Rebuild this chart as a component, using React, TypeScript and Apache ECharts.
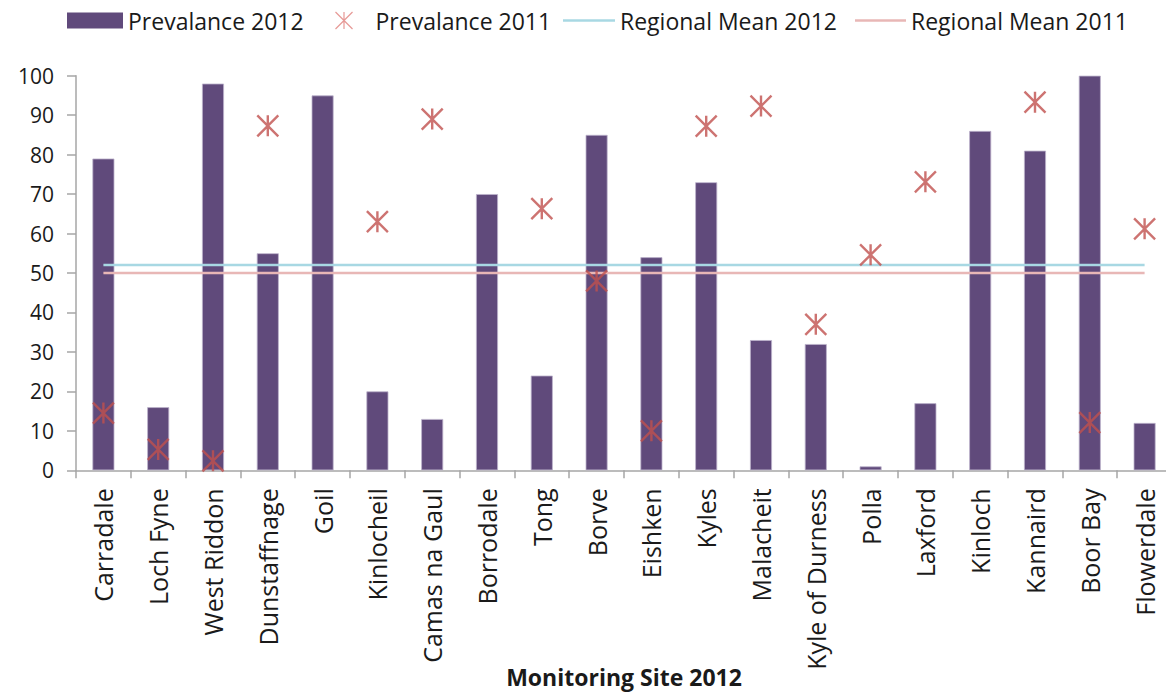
import React, { useEffect, useRef } from "react";
import * as echarts from "echarts";

const categories = [
  "Carradale", "Loch Fyne", "West Riddon", "Dunstaffnage", "Goil", "Kinlocheil",
  "Camas na Gaul", "Borrodale", "Tong", "Borve", "Eishken", "Kyles", "Malacheit",
  "Kyle of Durness", "Polla", "Laxford", "Kinloch", "Kannaird", "Boor Bay", "Flowerdale",
];

const prevalence2012 = [79, 16, 98, 55, 95, 20, 13, 70, 24, 85, 54, 73, 33, 32, 1, 17, 86, 81, 100, 12];
const prevalence2011 = [14.5, 5.3, 2.4, 87.3, null, 63, 89, null, 66.3, 48, 10, 87.2, 92.3, 37, 54.6, 73.1, null, 93.3, 12.1, 61.2];
const regionalMean2012 = 52;
const regionalMean2011 = 50;
const yTicks = [0, 10, 20, 30, 40, 50, 60, 70, 80, 90, 100];

const FONT = "'Open Sans', sans-serif";
const STAR = "path://M0,0L20,20M0,20L20,0M10,0L10,20";
const BAR_COLOR = "#604a7b";
const STAR_COLOR = "#c0504d";
const MEAN12_COLOR = "#a8d8e3";
const MEAN11_COLOR = "#e8b7b6";

export default function App() {
  const ref = useRef<HTMLDivElement>(null);

  useEffect(() => {
    document.body.style.margin = "0";
    if (!ref.current) return;
    const chart = echarts.init(ref.current, undefined, { renderer: "svg" });
    const legendText = { fontFamily: FONT, fontSize: 23, color: "#1a1a1a" };
    chart.setOption({
      animation: false,
      backgroundColor: "#ffffff",
      textStyle: { fontFamily: FONT },
      legend: [
        {
          left: 67, top: 9, padding: 0, itemWidth: 56, itemHeight: 16,
          data: [{ name: "Prevalance 2012", icon: "rect" }],
          itemStyle: { color: BAR_COLOR, borderWidth: 0 },
          textStyle: legendText,
        },
        {
          left: 333, top: 9, padding: 0, itemWidth: 17, itemHeight: 17,
          data: [{ name: "Prevalance 2011", icon: STAR }],
          itemStyle: { color: "none", borderColor: "#e0807c", borderWidth: 1.2 },
          textStyle: { ...legendText, padding: [0, 0, 0, 18] },
        },
        {
          left: 563, top: 9, padding: 0, itemWidth: 52, itemHeight: 2.5,
          data: [{ name: "Regional Mean 2012", icon: "rect" }],
          itemStyle: { color: MEAN12_COLOR, borderWidth: 0 },
          textStyle: legendText,
        },
        {
          left: 855, top: 9, padding: 0, itemWidth: 51, itemHeight: 2.5,
          data: [{ name: "Regional Mean 2011", icon: "rect" }],
          itemStyle: { color: MEAN11_COLOR, borderWidth: 0 },
          textStyle: legendText,
        },
      ],
      grid: {
        left: 76, top: 75.7, width: 1096, height: 394.6,
        containLabel: false, outerBoundsMode: "none",
      },
      xAxis: {
        type: "category",
        data: categories,
        boundaryGap: true,
        axisLine: { lineStyle: { color: "#a6a6a6", width: 1.5 } },
        axisTick: { show: true, length: 8, lineStyle: { color: "#a6a6a6", width: 1.5 } },
        axisLabel: {
          rotate: 90, interval: 0, margin: 18, fontSize: 25, color: "#1a1a1a", fontFamily: FONT,
        },
        name: "Monitoring Site 2012",
        nameLocation: "middle",
        nameGap: 195,
        nameMoveOverlap: false,
        nameTextStyle: {
          fontFamily: FONT, fontSize: 23, lineHeight: 24, fontWeight: "bold", color: "#1a1a1a",
        },
      },
      yAxis: {
        type: "value",
        min: yTicks[0],
        max: yTicks[yTicks.length - 1],
        interval: 10,
        splitLine: { show: false },
        axisLine: { show: true, lineStyle: { color: "#a6a6a6", width: 1.5 } },
        axisTick: { show: true, length: 9, lineStyle: { color: "#a6a6a6", width: 1.5 } },
        axisLabel: { margin: 22, fontSize: 21, color: "#1a1a1a", fontFamily: FONT },
      },
      series: [
        {
          name: "Prevalance 2012",
          type: "bar",
          data: prevalence2012,
          barWidth: 22,
          itemStyle: { color: BAR_COLOR, borderColor: "#bdb2cc", borderWidth: 0.8 },
          z: 2,
        },
        {
          name: "Regional Mean 2012",
          type: "line",
          data: categories.map(() => regionalMean2012),
          symbol: "none",
          lineStyle: { color: MEAN12_COLOR, width: 2.5 },
          itemStyle: { color: MEAN12_COLOR },
          z: 3,
        },
        {
          name: "Regional Mean 2011",
          type: "line",
          data: categories.map(() => regionalMean2011),
          symbol: "none",
          lineStyle: { color: MEAN11_COLOR, width: 2.5 },
          itemStyle: { color: MEAN11_COLOR },
          z: 3,
        },
        {
          name: "Prevalance 2011",
          type: "scatter",
          data: prevalence2011,
          symbol: STAR,
          symbolSize: 21,
          itemStyle: { color: "none", borderColor: STAR_COLOR, borderWidth: 2.4 },
          z: 4,
        },
      ],
    });
    return () => chart.dispose();
  }, []);

  return <div ref={ref} style={{ width: 1166, height: 692 }} />;
}
